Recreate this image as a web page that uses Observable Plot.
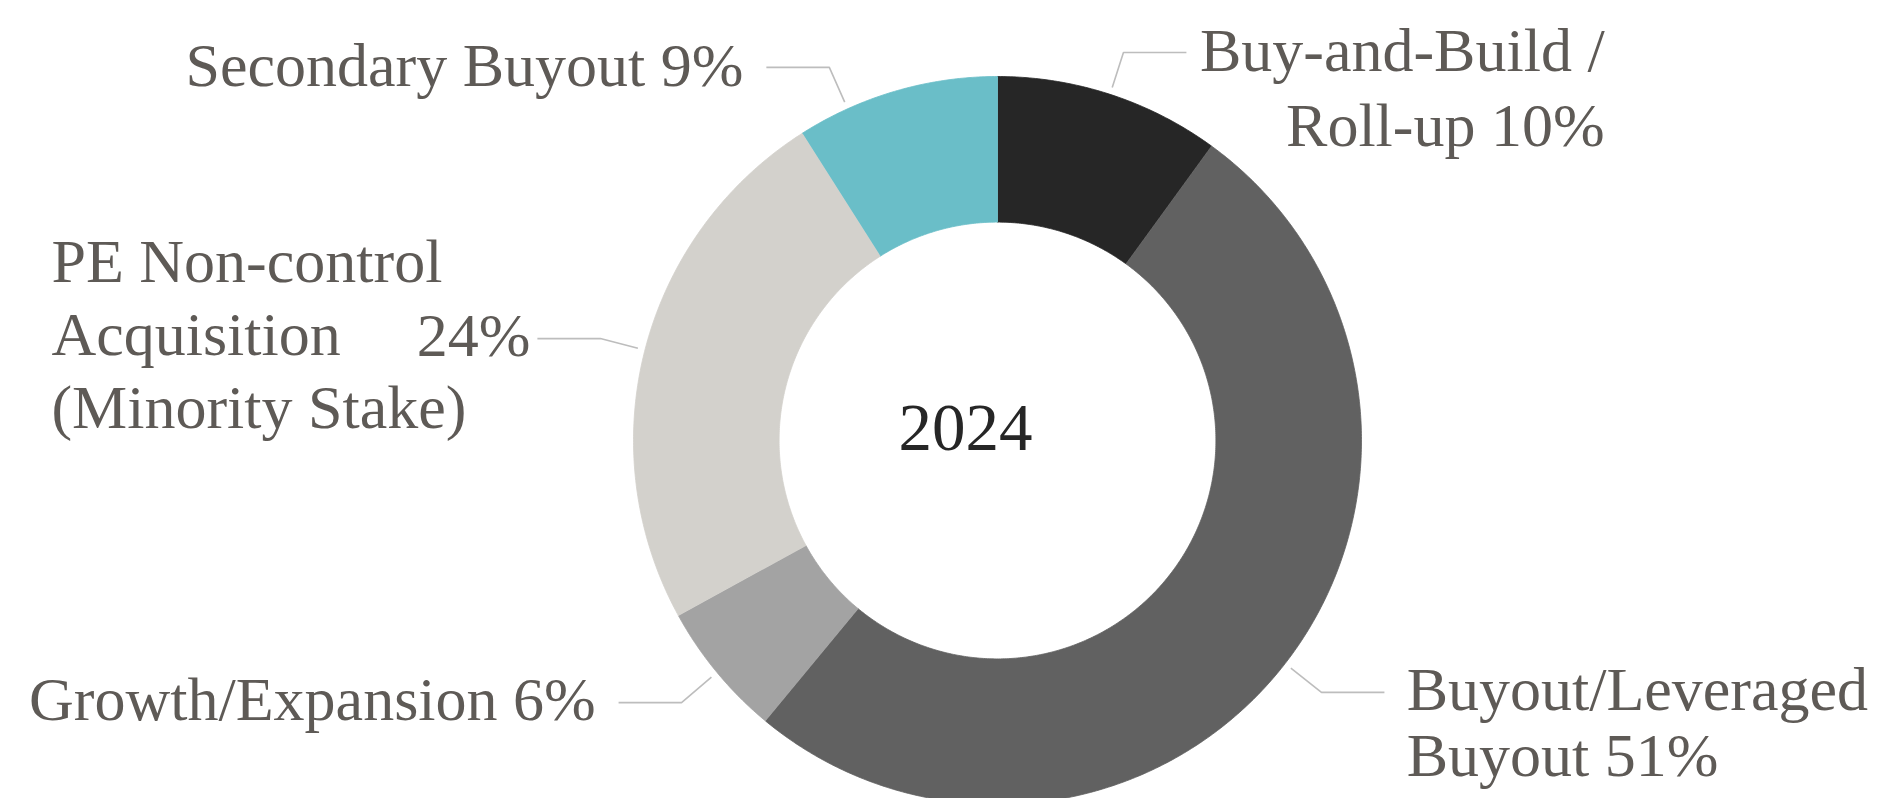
<!DOCTYPE html>
<html>
<head>
<meta charset="utf-8">
<script src="https://cdn.jsdelivr.net/npm/d3@7"></script>
<script src="https://cdn.jsdelivr.net/npm/@observablehq/plot@0.6"></script>
<style>
  html, body { margin: 0; padding: 0; background: #ffffff; }
  #chart svg { display: block; }
</style>
</head>
<body>
<div id="chart"></div>
<script>
// ---- data ----
const year = "2024";
const categories = [
  "Buy-and-Build /\nRoll-up",
  "Buyout/Leveraged\nBuyout",
  "Growth/Expansion",
  "PE Non-control\nAcquisition\n(Minority Stake)",
  "Secondary Buyout"
];
const shares = [10, 51, 6, 24, 9];
const colors = ["#262626", "#616161", "#A3A3A3", "#D3D1CC", "#6ABEC8"];

// ---- layout (donut-radius units, centre of the ring = 0,0) ----
const W = 1877, H = 798;
const CX = 997, CY = 440, R = 364;   // pixel placement of the ring
const INNER = 0.6;
const leaderLayout = [
  {frac: 0.5,  ex: 0.346,  ey: 1.066,  dir: 1},
  {frac: 0.5,  ex: 0.890,  ey: -0.692, dir: 1},
  {frac: 0.5,  ex: -0.868, ey: -0.720, dir: -1},
  {frac: 0.5,  ex: -1.091, ey: 0.280,  dir: -1},
  {frac: 0.25, ex: -0.462, ey: 1.025,  dir: -1}
];
const labelLayout = [
  {x: 1.668,  y: 0.810,  anchor: "end",   lh: 1.21, pct: "inline"},
  {x: 1.124,  y: -0.923, anchor: "start", lh: 1.065, pct: "inline"},
  {x: -1.104, y: -0.769, anchor: "end",   lh: 1.2, pct: "inline"},
  {x: -2.599, y: 0.033,  anchor: "start", lh: 1.18, pct: {x: -1.283, y: 0.231}},
  {x: -0.698, y: 0.973,  anchor: "end",   lh: 1.2, pct: "inline"}
];

// ---- geometry derived from the values ----
const total = d3.sum(shares);
let acc = 0;
const slices = categories.map((c, i) => {
  const a0 = acc / total * 2 * Math.PI;
  acc += shares[i];
  const a1 = acc / total * 2 * Math.PI;
  return {category: c, share: shares[i], a0, a1};
});

const ringPts = [];
for (const s of slices) {
  const n = Math.max(8, Math.ceil((s.a1 - s.a0) / (Math.PI / 360)));
  for (let k = 0; k <= n; k++) {
    const a = s.a0 + (s.a1 - s.a0) * k / n;
    ringPts.push({category: s.category, x: Math.sin(a), y: Math.cos(a)});
  }
  for (let k = n; k >= 0; k--) {
    const a = s.a0 + (s.a1 - s.a0) * k / n;
    ringPts.push({category: s.category, x: INNER * Math.sin(a), y: INNER * Math.cos(a)});
  }
}

const SEG = 0.173;
const leaderPts = [];
slices.forEach((s, i) => {
  const L = leaderLayout[i];
  const a = s.a0 + (s.a1 - s.a0) * L.frac;
  leaderPts.push({category: s.category, x: 1.02 * Math.sin(a), y: 1.02 * Math.cos(a)});
  leaderPts.push({category: s.category, x: L.ex, y: L.ey});
  leaderPts.push({category: s.category, x: L.ex + L.dir * SEG, y: L.ey});
});

const textColor = "#5E5A56";
const labelMarks = [];
slices.forEach((s, i) => {
  const L = labelLayout[i];
  const txt = L.pct === "inline" ? `${s.category} ${s.share}%` : s.category;
  labelMarks.push(Plot.text([{x: L.x, y: L.y, t: txt}], {
    x: "x", y: "y", text: "t", textAnchor: L.anchor, lineAnchor: "bottom",
    lineHeight: L.lh, fontSize: 62, fontFamily: "Liberation Serif", fill: textColor
  }));
  if (L.pct !== "inline") {
    labelMarks.push(Plot.text([{x: L.pct.x, y: L.pct.y, t: `${s.share}%`}], {
      x: "x", y: "y", text: "t", textAnchor: "end", lineAnchor: "bottom",
      fontSize: 62, fontFamily: "Liberation Serif", fill: textColor
    }));
  }
});

const chart = Plot.plot({
  width: W,
  height: H,
  margin: 0,
  x: {domain: [-CX / R, (W - CX) / R], range: [0, W], axis: null},
  y: {domain: [-(H - CY) / R, CY / R], range: [H, 0], axis: null},
  color: {domain: categories, range: colors},
  style: {background: "#ffffff"},
  marks: [
    Plot.line(ringPts, {x: "x", y: "y", z: "category", fill: "category", stroke: "category", strokeWidth: 0.8, curve: "linear"}),
    Plot.line(leaderPts, {x: "x", y: "y", z: "category", stroke: "#BDBDBD", strokeWidth: 1.6, strokeLinecap: "butt", strokeLinejoin: "miter"}),
    ...labelMarks,
    Plot.text([{x: -0.088, y: -0.025, t: year}], {
      x: "x", y: "y", text: "t", textAnchor: "middle", lineAnchor: "bottom",
      fontSize: 67, fontFamily: "Liberation Serif", fill: "#262626"
    })
  ]
});
document.getElementById("chart").appendChild(chart);
</script>
</body>
</html>
